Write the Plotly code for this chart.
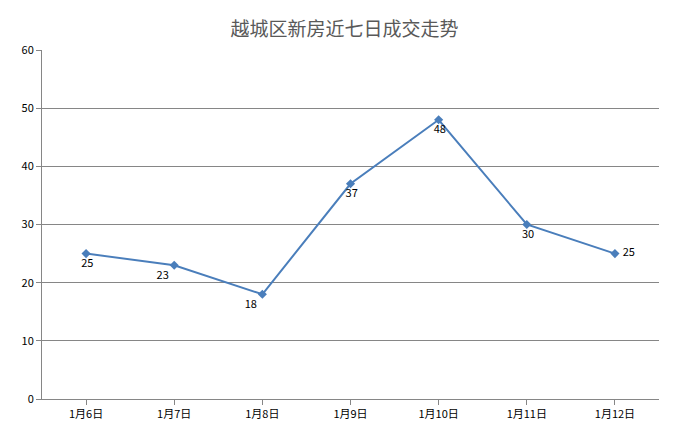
import plotly.graph_objects as go

# Data
days = ["1月6日", "1月7日", "1月8日", "1月9日", "1月10日", "1月11日", "1月12日"]
deals = [25, 23, 18, 37, 48, 30, 25]
label_pos = ["bottom center", "bottom left", "bottom left", "bottom center",
             "bottom center", "bottom center", "middle right"]

fig = go.Figure()
fig.add_trace(go.Scatter(
    x=days, y=deals,
    mode="lines+markers+text",
    line=dict(color="#4a7ebb", width=2),
    marker=dict(symbol="diamond", size=7, color="#4a7ebb"),
    text=[" " + str(v) for v in deals],
    textposition=label_pos,
    textfont=dict(size=11, color="#000000", family="Noto Sans CJK SC"),
    cliponaxis=False,
))

# page body adds an 8px offset, so margins are shifted to compensate
fig.update_layout(
    width=673, height=434,
    margin=dict(l=34, r=22, t=42, b=43),
    title=dict(text="越城区新房近七日成交走势", x=0.5, y=0.965, xanchor="center",
               font=dict(size=19, color="#595959", family="Noto Sans CJK SC")),
    paper_bgcolor="white", plot_bgcolor="white",
    showlegend=False,
    font=dict(family="Noto Sans CJK SC", size=11, color="#000000"),
)
fig.update_xaxes(range=[-0.5, 6.5], showgrid=False, showline=True,
                 linecolor="#868686", ticks="outside", ticklen=5, tickcolor="#868686",
                 tickfont=dict(size=11))
fig.update_yaxes(range=[0, 60], dtick=10, showgrid=True, gridcolor="#868686",
                 gridwidth=1, showline=True, linecolor="#868686", ticks="outside",
                 ticklen=5, tickcolor="#868686", zeroline=False, tickfont=dict(size=11))

fig.write_html("out.html")
